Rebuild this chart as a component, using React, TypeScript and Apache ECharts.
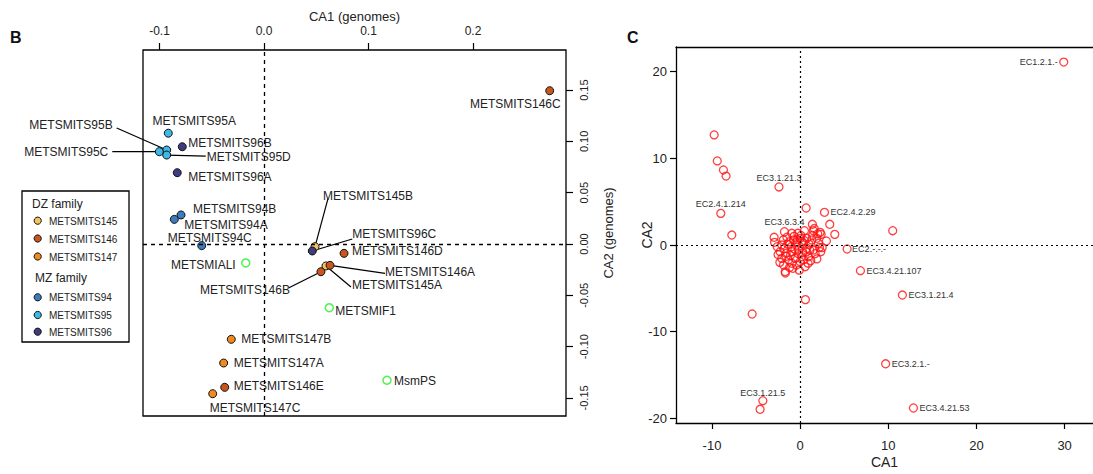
import React, { useEffect, useRef } from "react";
import * as echarts from "echarts";

// ---------- Panel B data (genomes CA) ----------
const bNames = [
  "METSMITS95A", "METSMITS96B", "METSMITS95B", "METSMITS95C", "METSMITS95D", "METSMITS96A",
  "METSMITS94B", "METSMITS94A", "METSMITS94C", "METSMIALI", "METSMITS145B", "METSMITS96C",
  "METSMITS146D", "METSMITS145A", "METSMITS146A", "METSMITS146B", "METSMIF1", "METSMITS147B",
  "METSMITS147A", "METSMITS146E", "METSMITS147C", "MsmPS", "METSMITS146C",
];
const bCA1 = [
  -0.0916, -0.0782, -0.0931, -0.1002, -0.0931, -0.083,
  -0.0794, -0.0858, -0.0596, -0.0175, 0.0488, 0.0462,
  0.0766, 0.0593, 0.0632, 0.0545, 0.0625, -0.0313,
  -0.0386, -0.0376, -0.0491, 0.1177, 0.2734,
];
const bCA2 = [
  0.108, 0.0948, 0.0916, 0.09, 0.0867, 0.0695,
  0.0283, 0.024, -0.0016, -0.0185, -0.0026, -0.0068,
  -0.0091, -0.0214, -0.0208, -0.027, -0.0621, -0.0929,
  -0.116, -0.1397, -0.1459, -0.1328, 0.1494,
];
const bStrain = [
  "95", "96", "95", "95", "95", "96",
  "94", "94", "94", "ref", "145", "96",
  "146", "145", "146", "146", "ref", "147",
  "147", "146", "147", "ref", "146",
];
const dzStrains = ["145", "146", "147"];
const mzStrains = ["94", "95", "96"];
const bXTicks = [-0.1, 0, 0.1, 0.2];
const bYTicks = [-0.15, -0.1, -0.05, 0, 0.05, 0.1, 0.15];

// ---------- Panel C data (EC numbers CA) ----------
const cLabNames = [
  "EC1.2.1.-", "EC3.1.21.3", "EC2.4.1.214", "EC3.6.3.4", "EC2.4.2.29", "EC2.-.-.-",
  "EC3.4.21.107", "EC3.1.21.4", "EC3.2.1.-", "EC3.4.21.53", "EC3.1.21.5",
];
const cLabCA1 = [29.9, -2.4, -9.0, -1.78, 2.76, 5.33, 6.84, 11.6, 9.7, 12.85, -4.23];
const cLabCA2 = [21.1, 6.7, 3.65, 1.53, 3.77, -0.46, -2.96, -5.77, -13.7, -18.8, -17.96];
const cCA1 = [
  -9.75, -9.4, -8.7, -8.4, -7.75, 0.68, 10.5, 3.36, 3.93, 2.98, -2.95, -2.9, 0.6, -5.44, -4.54, -1.67,
  -2.08, -1.21, -0.76, 0, 0.76, 1.32, 1.89, 2.08, 0.38, -0.38,
  -2.27, -1.59, -0.94, -0.19, 0.76, 1.51, 2.34, 2.19,
  -2.08, -1.32, -0.57, 0.19, 0.94, -1.89, -0.94, 0, -1.7, -0.83, 0.57,
  1.39, -0.94, -0.26, 0.49, 1.51, 2.27, 2.38,
  -1.5, -0.5, 0.3, 1.0, -1.0, -0.2, 0.5, -1.8, 1.7, 1.2, -1.2, -0.4, 0.9, -2.3, 1.9,
  -1.4, 0.1, -0.6, 0.2, 1.4, -2.5, 0.7, -1.6, -0.1, 1.6, 2.0, -0.7, -1.9, -2.6, 0.4,
  1.1, -0.3, -1.1, 2.5,
];
const cCA2 = [
  12.7, 9.7, 8.65, 7.95, 1.15, 4.27, 1.65, 2.39, 1.23, 0.46, 0.89, 0.31, -6.3, -7.96, -18.95, -3.23,
  0, 0.38, 0.58, 0.77, 0.77, 0.58, 0.77, 0.19, 0.19, 0,
  -0.77, -0.96, -0.77, -0.58, -0.38, -0.58, -0.77, -0.27,
  -1.54, -1.73, -1.54, -1.35, -1.35, -2.31, -2.11, -1.92, -3.08, -2.69, -2.5,
  2.39, 1.35, 1.35, 1.65, 1.65, 1.46, 1.23,
  0.9, 0.3, -0.9, 0.1, -0.2, -1.0, 0.5, -0.4, -1.0, -1.8, -2.6, -2.3, -2.1, -2.0, -1.6,
  0.1, 1.1, -0.5, 0.4, 1.1, -1.1, -0.8, -1.3, -2.9, 1.9, 1.3, 1.0, 0.6, -0.2, -1.7,
  -0.6, 0.6, -1.2, -0.3,
];
const cXTicks = [-10, 0, 10, 20, 30];
const cYTicks = [-20, -10, 0, 10, 20];

// ---------- styles / label placement (pixels) ----------
const FONT = "'Liberation Sans', Arial, Helvetica, sans-serif";
const strainColors: Record<string, string> = {
  "145": "#F6C25E",
  "146": "#C8561E",
  "147": "#EE8A20",
  "94": "#3B7CBF",
  "95": "#3CB9E6",
  "96": "#3E3C7E",
};
const refColor = "#22EE22";
// [dx, dy, align, leaderDx?, leaderDy?]
const bLabelPos: any[] = [
  [26, -12, "center"],
  [6, -4, "left"],
  [-54, -25, "right", -50, -22],
  [-51, 0, "right", -47, 0],
  [40, 2, "left", 39, 1],
  [11, 4, "left"],
  [12, -6, "left"],
  [10, 6, "left"],
  [8, -8, "center"],
  [-10, 2, "right"],
  [8, -51, "left", 13, -48],
  [40, -17, "left", 40, -12],
  [8, -2, "left"],
  [26, 19, "left", 25, 21],
  [55, 7, "left", 55, 8],
  [-31, 18, "right", -32, 16],
  [6, 3, "left"],
  [10, 0, "left"],
  [10, 0, "left"],
  [9, -1, "left"],
  [-3, 14, "left"],
  [7, 1, "left"],
  [11, 13, "right"],
];
const cLabelPos: any[] = [
  [-6, 0, "right"],
  [0, -9, "center"],
  [0, -9, "center"],
  [0, -10, "center"],
  [6, 0, "left"],
  [5, 0, "left"],
  [6, 0, "left"],
  [6, 0, "left"],
  [6, 0, "left"],
  [6, 0, "left"],
  [0, -8, "center"],
];

function labelRenderer(names: string[], pos: any[], fontSize: number, fill: string) {
  return (params: any, api: any) => {
    const i = api.value(2);
    const p = api.coord([api.value(0), api.value(1)]);
    const lp = pos[i];
    const children: any[] = [];
    if (lp[3] !== undefined) {
      children.push({
        type: "line",
        shape: { x1: p[0], y1: p[1], x2: p[0] + lp[3], y2: p[1] + lp[4] },
        style: { stroke: "#000", lineWidth: 1.2 },
      });
    }
    children.push({
      type: "text",
      x: p[0] + lp[0],
      y: p[1] + lp[1],
      style: {
        text: names[i],
        fill,
        font: `${fontSize}px ${FONT}`,
        align: lp[2],
        textAlign: lp[2],
        verticalAlign: "middle",
        textVerticalAlign: "middle",
      },
    });
    return { type: "group", children };
  };
}

export default function App() {
  const ref = useRef<HTMLDivElement>(null);
  useEffect(() => {
    document.body.style.margin = "0";
    const chart = echarts.init(ref.current!, null, { renderer: "svg", width: 1093, height: 474 });

    const strainOrder = ["94", "95", "145", "146", "147", "96"];
    const strainSeries = strainOrder.map((s) => ({
      type: "scatter",
      xAxisIndex: 0,
      yAxisIndex: 0,
      symbol: "circle",
      symbolSize: 8,
      z: 3,
      itemStyle: { color: strainColors[s], borderColor: "#111", borderWidth: 1, opacity: 1 },
      data: bNames.map((_, i) => i).filter((i) => bStrain[i] === s).map((i) => [bCA1[i], bCA2[i]]),
    }));

    const legendGraphics: any[] = [
      { type: "rect", shape: { x: 22, y: 191, width: 107, height: 151 }, style: { fill: "#fff", stroke: "#000", lineWidth: 1.3 } },
      { type: "text", x: 32, y: 203.5, style: { text: "DZ family", font: `12px ${FONT}`, fill: "#222", verticalAlign: "middle" } },
      { type: "text", x: 35, y: 277.5, style: { text: "MZ family", font: `12px ${FONT}`, fill: "#222", verticalAlign: "middle" } },
    ];
    const legendYs = [220.7, 238.5, 256.5, 297.3, 315, 331.7];
    [...dzStrains, ...mzStrains].forEach((s, k) => {
      legendGraphics.push({
        type: "circle",
        shape: { cx: 37.7, cy: legendYs[k], r: 3.6 },
        style: { fill: strainColors[s], stroke: "#111", lineWidth: 1 },
      });
      legendGraphics.push({
        type: "text",
        x: 49,
        y: legendYs[k] + 0.5,
        style: { text: "METSMITS" + s, font: `10px ${FONT}`, fill: "#222", verticalAlign: "middle" },
      });
    });

    const cXMin = -14.08;
    const cXMax = 33.22;
    const option: any = {
      animation: false,
      backgroundColor: "#fff",
      textStyle: { fontFamily: FONT },
      grid: [
        { left: 143, top: 50, width: 423, height: 366, show: true, borderColor: "#000", borderWidth: 1.3, backgroundColor: "transparent" },
        { left: 676, top: 47, width: 417, height: 376, show: false },
      ],
      xAxis: [
        {
          gridIndex: 0,
          type: "value",
          position: "top",
          min: -0.11579,
          max: 0.289,
          name: "CA1 (genomes)",
          nameLocation: "middle",
          nameGap: 27,
          nameMoveOverlap: false,
          nameTextStyle: { fontSize: 13, color: "#222", fontFamily: FONT },
          axisLine: { show: false, onZero: false },
          axisTick: { show: true, length: 7, lineStyle: { color: "#000", width: 1.2 }, customValues: bXTicks },
          axisLabel: { fontSize: 12, color: "#222", margin: 13, fontFamily: FONT, customValues: bXTicks, formatter: (v: number) => v.toFixed(1) },
          splitLine: { show: false },
        },
        {
          gridIndex: 1,
          type: "value",
          position: "bottom",
          min: cXMin,
          max: cXMax,
          name: "CA1",
          nameLocation: "middle",
          nameGap: 32,
          nameMoveOverlap: false,
          nameTextStyle: { fontSize: 14, color: "#222", fontFamily: FONT },
          axisLine: { show: true, onZero: false, lineStyle: { color: "#000", width: 1.3 } },
          axisTick: { show: true, length: 6, lineStyle: { color: "#000", width: 1.2 }, customValues: cXTicks },
          axisLabel: { fontSize: 13, color: "#222", margin: 16, fontFamily: FONT, customValues: cXTicks, formatter: (v: number) => String(v) },
          splitLine: { show: false },
        },
        {
          gridIndex: 1,
          type: "value",
          position: "top",
          min: cXMin,
          max: cXMax,
          axisLine: { show: true, onZero: false, lineStyle: { color: "#000", width: 1.3 } },
          axisTick: { show: false },
          axisLabel: { show: false },
          splitLine: { show: false },
        },
      ],
      yAxis: [
        {
          gridIndex: 0,
          type: "value",
          position: "right",
          min: -0.16764,
          max: 0.18908,
          name: "CA2 (genomes)",
          nameLocation: "middle",
          nameRotate: 90,
          nameGap: 36,
          nameMoveOverlap: false,
          nameTextStyle: { fontSize: 13, color: "#222", fontFamily: FONT },
          axisLine: { show: false, onZero: false },
          axisTick: { show: true, length: 7, lineStyle: { color: "#000", width: 1.2 }, customValues: bYTicks },
          axisLabel: { fontSize: 11, color: "#222", margin: 12, rotate: 90, fontFamily: FONT, customValues: bYTicks, formatter: (v: number) => v.toFixed(2) },
          splitLine: { show: false },
        },
        {
          gridIndex: 1,
          type: "value",
          position: "left",
          min: -20.53,
          max: 22.84,
          name: "CA2",
          nameLocation: "middle",
          nameRotate: 90,
          nameGap: 22,
          nameMoveOverlap: false,
          nameTextStyle: { fontSize: 14, color: "#222", fontFamily: FONT },
          axisLine: { show: true, onZero: false, lineStyle: { color: "#000", width: 1.3 } },
          axisTick: { show: true, length: 6, lineStyle: { color: "#000", width: 1.2 }, customValues: cYTicks },
          axisLabel: { fontSize: 13, color: "#222", margin: 9, fontFamily: FONT, customValues: cYTicks, formatter: (v: number) => String(v) },
          splitLine: { show: false },
        },
      ],
      graphic: [
        { type: "text", x: 10, y: 37, style: { text: "B", font: `bold 16px ${FONT}`, fill: "#111", verticalAlign: "middle" } },
        { type: "text", x: 627, y: 37, style: { text: "C", font: `bold 16px ${FONT}`, fill: "#111", verticalAlign: "middle" } },
        ...legendGraphics,
      ],
      series: [
        {
          type: "custom",
          xAxisIndex: 0,
          yAxisIndex: 0,
          silent: true,
          clip: false,
          z: 1,
          data: bNames.map((_, i) => [bCA1[i], bCA2[i], i]),
          encode: { x: 0, y: 1 },
          renderItem: labelRenderer(bNames, bLabelPos, 12, "#222"),
          markLine: {
            silent: true,
            symbol: ["none", "none"],
            label: { show: false },
            lineStyle: { type: [4, 4], color: "#000", width: 1.3 },
            data: [{ xAxis: 0 }, { yAxis: 0 }],
          },
        },
        ...strainSeries,
        {
          type: "scatter",
          xAxisIndex: 0,
          yAxisIndex: 0,
          symbol: "circle",
          symbolSize: 8,
          z: 3,
          itemStyle: { color: "rgba(0,0,0,0)", borderColor: refColor, borderWidth: 1.5 },
          data: bNames.map((_, i) => i).filter((i) => bStrain[i] === "ref").map((i) => [bCA1[i], bCA2[i]]),
        },
        {
          type: "custom",
          xAxisIndex: 1,
          yAxisIndex: 1,
          silent: true,
          clip: false,
          z: 1,
          data: cLabNames.map((_, i) => [cLabCA1[i], cLabCA2[i], i]),
          encode: { x: 0, y: 1 },
          renderItem: labelRenderer(cLabNames, cLabelPos, 9, "#333"),
          markLine: {
            silent: true,
            symbol: ["none", "none"],
            label: { show: false },
            lineStyle: { type: [2, 3], color: "#000", width: 1.2 },
            data: [{ xAxis: 0 }, { yAxis: 0 }],
          },
        },
        {
          type: "scatter",
          xAxisIndex: 1,
          yAxisIndex: 1,
          symbol: "circle",
          symbolSize: 8,
          z: 3,
          itemStyle: { color: "rgba(0,0,0,0)", borderColor: "#FF1010", borderWidth: 1.3 },
          data: [
            ...cCA1.map((x, i) => [x, cCA2[i]]),
            ...cLabCA1.map((x, i) => [x, cLabCA2[i]]),
          ],
        },
      ],
    };
    chart.setOption(option);
    return () => chart.dispose();
  }, []);
  return <div ref={ref} style={{ width: 1093, height: 474, position: "fixed", left: 0, top: 0, overflow: "hidden", background: "#fff" }} />;
}
